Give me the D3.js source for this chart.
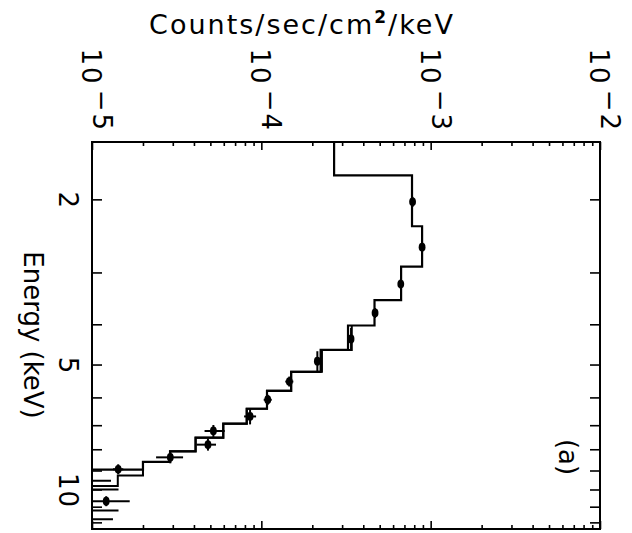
<!DOCTYPE html>
<html>
<head>
<meta charset="utf-8">
<script src="https://cdn.jsdelivr.net/npm/d3@7"></script>
<style>
  body { margin: 0; background: #fff; }
  text { font-family: "DejaVu Sans", sans-serif; fill: #000; }
</style>
</head>
<body>
<div class="container"></div>
<script>
// model histogram (energy bin edges in keV, flux per bin)
const modelEdges  = [1.40, 1.751, 2.322, 2.905, 3.496, 4.026, 4.611, 5.207, 5.785, 6.389, 6.942, 7.500, 8.092, 8.580, 8.954, 12.6];
const modelValues = [2.69e-4, 7.76e-4, 8.90e-4, 6.69e-4, 4.66e-4, 3.25e-4, 2.24e-4, 1.50e-4, 1.08e-4, 8.20e-5, 5.96e-5, 4.09e-5, 2.89e-5, 2.00e-5, 7e-6];
const model2Edges  = [4.026, 4.611, 5.207, 5.785, 6.389, 6.942, 7.500, 8.092, 8.580, 9.256, 9.810, 12.6];
const model2Values = [3.42e-4, 2.28e-4, 1.50e-4, 1.08e-4, 8.20e-5, 5.96e-5, 4.09e-5, 2.89e-5, 2.00e-5, 1.42e-5, 7e-6];

// data points
const dataE    = [2.028, 2.608, 3.200, 3.757, 4.339, 4.908, 5.495, 6.079, 6.668, 7.228, 7.798, 8.367, 8.939, 10.67, 9.529, 10.00, 11.23, 11.80];
const dataElo  = [1.973, 2.537, 3.113, 3.654, 4.083, 4.644, 5.345, 5.913, 6.380, 6.993, 7.544, 8.094, 8.695, 10.38, 9.27, 9.73, 10.92, 11.48];
const dataEhi  = [2.085, 2.681, 3.290, 3.863, 4.611, 5.187, 5.649, 6.250, 6.969, 7.471, 8.060, 8.649, 9.190, 10.97, 9.80, 10.28, 11.55, 12.13];
const dataF    = [7.82e-4, 8.90e-4, 6.66e-4, 4.695e-4, 3.387e-4, 2.142e-4, 1.463e-4, 1.091e-4, 8.58e-5, 5.21e-5, 4.84e-5, 2.90e-5, 1.428e-5, 1.213e-5, 6e-6, 6e-6, 6e-6, 6e-6];
const dataFlo  = [7.61e-4, 8.66e-4, 6.48e-4, 4.57e-4, 3.30e-4, 2.08e-4, 1.385e-4, 1.033e-4, 7.91e-5, 4.62e-5, 4.14e-5, 2.39e-5, 1.33e-5, 7e-6, 4e-6, 4e-6, 4e-6, 4e-6];
const dataFhi  = [8.04e-4, 9.15e-4, 6.84e-4, 4.82e-4, 3.48e-4, 2.20e-4, 1.545e-4, 1.152e-4, 9.31e-5, 6.08e-5, 5.40e-5, 3.45e-5, 1.53e-5, 1.67e-5, 1.295e-5, 1.434e-5, 1.434e-5, 1.33e-5];

// axes
const fluxDecades = [-5, -4, -3, -2];
const energyTicks = [2, 3, 4, 5, 6, 7, 8, 9, 10, 11, 12];
const energyLabels = [2, 5, 10];

const width = 632, height = 533;
const plot = {left: 92, right: 600, top: 142, bottom: 529};

const svg = d3.select(".container")
              .append("svg")
                .attr("width", width)
                .attr("height", height);

const x = d3.scaleLog().domain([1e-5, 1e-2]).range([plot.left, plot.right]);
const y = d3.scaleLog().domain([1.455, 12.45]).range([plot.top, plot.bottom]);

svg.append("clipPath").attr("id", "clip")
  .append("rect")
    .attr("x", plot.left).attr("y", plot.top)
    .attr("width", plot.right - plot.left)
    .attr("height", plot.bottom - plot.top);

// ticks
let majorF = fluxDecades.map(e => Math.pow(10, e));
let minorF = [];
fluxDecades.slice(0, -1).forEach(e => {
  for (let k = 2; k <= 9; k++) minorF.push(k * Math.pow(10, e));
});

function tickAxis(axis, tx, ty) {
  const g = svg.append("g")
    .attr("transform", "translate(" + tx + "," + ty + ")")
    .call(axis);
  g.select(".domain").remove();
  g.selectAll("text").remove();
  g.selectAll("line").attr("stroke", "#000").attr("stroke-width", 1.6);
}

tickAxis(d3.axisBottom(x).tickValues(majorF).tickSize(8), 0, plot.top);
tickAxis(d3.axisBottom(x).tickValues(minorF).tickSize(4), 0, plot.top);
tickAxis(d3.axisTop(x).tickValues(majorF).tickSize(8), 0, plot.bottom);
tickAxis(d3.axisTop(x).tickValues(minorF).tickSize(4), 0, plot.bottom);
tickAxis(d3.axisRight(y).tickValues(energyTicks).tickSize(10), plot.left, 0);
tickAxis(d3.axisLeft(y).tickValues(energyTicks).tickSize(10), plot.right, 0);

svg.append("rect")
  .attr("x", plot.left).attr("y", plot.top)
  .attr("width", plot.right - plot.left)
  .attr("height", plot.bottom - plot.top)
  .attr("fill", "none")
  .attr("stroke", "#000")
  .attr("stroke-width", 2);

// labels
const fontSize = 26;

svg.selectAll(".flux-label")
  .data(fluxDecades)
  .enter()
  .append("text")
    .classed("flux-label", true)
    .attr("text-anchor", "end")
    .attr("font-size", fontSize)
    .attr("letter-spacing", 2)
    .attr("transform", d => "translate(" + (x(Math.pow(10, d)) - 10) + "," + (plot.top - 10) + ") rotate(90)")
    .each(function(d) {
      const t = d3.select(this);
      t.append("tspan").text("10");
      t.append("tspan").attr("dy", -11).attr("dx", 4).text("\u2212" + Math.abs(d));
    });

svg.selectAll(".energy-label")
  .data(energyLabels)
  .enter()
  .append("text")
    .classed("energy-label", true)
    .attr("text-anchor", "middle")
    .attr("font-size", fontSize)
    .attr("letter-spacing", 1)
    .attr("transform", d => "translate(59," + (y(d) + 1) + ") rotate(90)")
    .text(d => d);

svg.append("text")
  .attr("text-anchor", "middle")
  .attr("font-size", fontSize)
  .attr("transform", "translate(24," + 335 + ") rotate(90)")
  .text("Energy (keV)");

svg.append("text")
  .attr("text-anchor", "middle")
  .attr("font-size", fontSize)
  .attr("transform", "translate(559,457) rotate(90)")
  .text("(a)");

const title = svg.append("text")
  .attr("x", 302)
  .attr("y", 34)
  .attr("text-anchor", "middle")
  .attr("font-size", 27)
  .attr("letter-spacing", 2);
title.append("tspan").text("Counts/sec/cm");
title.append("tspan").attr("font-size", 17).attr("font-weight", "bold").attr("dy", -11).text("2");
title.append("tspan").attr("dy", 11).text("/keV");

// histogram models
const plotArea = svg.append("g").attr("clip-path", "url(#clip)");

function stepPoints(edges, values) {
  let pts = [];
  values.forEach((v, i) => {
    pts.push([x(v), y(edges[i])]);
    pts.push([x(v), y(edges[i + 1])]);
  });
  return pts;
}

const line = d3.line();

plotArea.append("path")
  .attr("d", line(stepPoints(model2Edges, model2Values)))
  .attr("fill", "none")
  .attr("stroke", "#000")
  .attr("stroke-width", 2);

plotArea.append("path")
  .attr("d", line(stepPoints(modelEdges, modelValues)))
  .attr("fill", "none")
  .attr("stroke", "#000")
  .attr("stroke-width", 2.2);

// data points with error bars
const pts = dataE.map((e, i) => ({
  e: e, elo: dataElo[i], ehi: dataEhi[i],
  f: dataF[i], flo: dataFlo[i], fhi: dataFhi[i]
}));

plotArea.selectAll(".ebar-h")
  .data(pts)
  .enter()
  .append("line")
    .attr("x1", d => x(d.flo))
    .attr("x2", d => x(d.fhi))
    .attr("y1", d => y(d.e))
    .attr("y2", d => y(d.e))
    .attr("stroke", "#000")
    .attr("stroke-width", 2);

plotArea.selectAll(".ebar-v")
  .data(pts)
  .enter()
  .append("line")
    .attr("x1", d => x(d.f))
    .attr("x2", d => x(d.f))
    .attr("y1", d => y(d.elo))
    .attr("y2", d => y(d.ehi))
    .attr("stroke", "#000")
    .attr("stroke-width", 2);

plotArea.selectAll(".dot")
  .data(pts)
  .enter()
  .append("ellipse")
    .attr("cx", d => x(d.f))
    .attr("cy", d => y(d.e))
    .attr("rx", 3.4)
    .attr("ry", 4.4)
    .attr("fill", "#000");
</script>
</body>
</html>
